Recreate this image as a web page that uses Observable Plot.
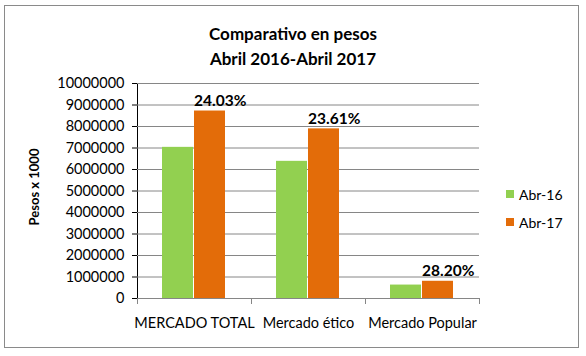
<!DOCTYPE html>
<html><head><meta charset="utf-8">
<script src="https://cdn.jsdelivr.net/npm/d3@7"></script>
<script src="https://cdn.jsdelivr.net/npm/@observablehq/plot@0.6"></script>
<style>
body{margin:0;background:#fff;}
#wrap{position:relative;width:586px;height:356px;font-family:Lato,"Open Sans",sans-serif;color:#000;overflow:hidden;}
#border{position:absolute;left:4px;top:5px;width:575px;height:343px;border:1px solid #8a8a8a;box-sizing:border-box;}
#title{position:absolute;left:0;width:586px;top:21px;text-align:center;font-weight:bold;font-size:17px;line-height:25px;z-index:2;}
#ylab{position:absolute;left:34px;top:187px;transform:translate(-50%,-50%) rotate(-90deg);font-weight:bold;font-size:13px;white-space:nowrap;z-index:2;}
#legend{position:absolute;left:506px;top:184px;font-size:14px;z-index:2;}
#legend .it{display:flex;align-items:center;height:20px;margin-bottom:8px;}
#legend .sw{width:8px;height:8px;margin-right:5px;}
#chart{position:absolute;left:0;top:0;z-index:1;}
</style>
</head><body>
<div id="wrap">
  <div id="border"></div>
  <div id="chart"></div>
  <div id="title"></div>
  <div id="ylab"></div>
  <div id="legend"></div>
</div>
<script>
const titleLines = ["Comparativo en pesos", "Abril 2016-Abril 2017"];
const yLabel = "Pesos x 1000";
const categories = ["MERCADO TOTAL", "Mercado ético", "Mercado Popular"];
const series = ["Abr-16", "Abr-17"];
const abr16 = [7030000, 6380000, 625000];
const abr17 = [8720000, 7890000, 801000];
const growthLabels = ["24.03%", "23.61%", "28.20%"];
const yTicks = [0, 1000000, 2000000, 3000000, 4000000, 5000000, 6000000, 7000000, 8000000, 9000000, 10000000];
const colors = ["#92D050", "#E36C09"];

const rows = [];
categories.forEach((c, i) => {
  rows.push({cat: c, series: series[0], value: abr16[i]});
  rows.push({cat: c, series: series[1], value: abr17[i]});
});
const labelRows = categories.map((c, i) => ({cat: c, series: series[1], value: abr17[i], label: growthLabels[i]}));

document.getElementById("title").innerHTML = titleLines.join("<br>");
document.getElementById("ylab").textContent = yLabel;
document.getElementById("legend").innerHTML = series.map((s, i) =>
  `<div class="it"><div class="sw" style="background:${colors[i]}"></div><span>${s}</span></div>`).join("");

const gray = "#868686";
const chart = Plot.plot({
  width: 586, height: 356,
  marginLeft: 136, marginRight: 106, marginTop: 83, marginBottom: 58,
  style: {background: "transparent", fontFamily: "Lato, 'Open Sans', sans-serif", fontSize: "14.5px", color: "#000"},
  fx: {domain: categories, padding: 0, axis: "bottom", tickSize: 0, tickPadding: 19, label: null},
  x: {domain: series, axis: null, paddingInner: 0.03, paddingOuter: 0.75},
  y: {domain: [0, 10000000], ticks: yTicks, tickFormat: d => String(d), tickSize: 5, tickPadding: 8, label: null, line: true},
  color: {domain: series, range: colors},
  marks: [
    Plot.gridY(yTicks, {stroke: gray, strokeOpacity: 1}),
    Plot.barY(rows, {fx: "cat", x: "series", y: "value", fill: "series"}),
    Plot.ruleY([0], {stroke: gray}),
    Plot.frame({anchor: "left", stroke: gray, insetTop: 215, insetBottom: -5}),
    Plot.frame({anchor: "right", stroke: gray, insetTop: 215, insetBottom: -5}),
    Plot.text(labelRows, {fx: "cat", x: "series", y: "value", text: "label", textAnchor: "start", lineAnchor: "bottom", dx: -16, dy: -5, fontWeight: "bold", fontSize: 15.5})
  ]
});
document.getElementById("chart").appendChild(chart);
</script>
</body></html>
